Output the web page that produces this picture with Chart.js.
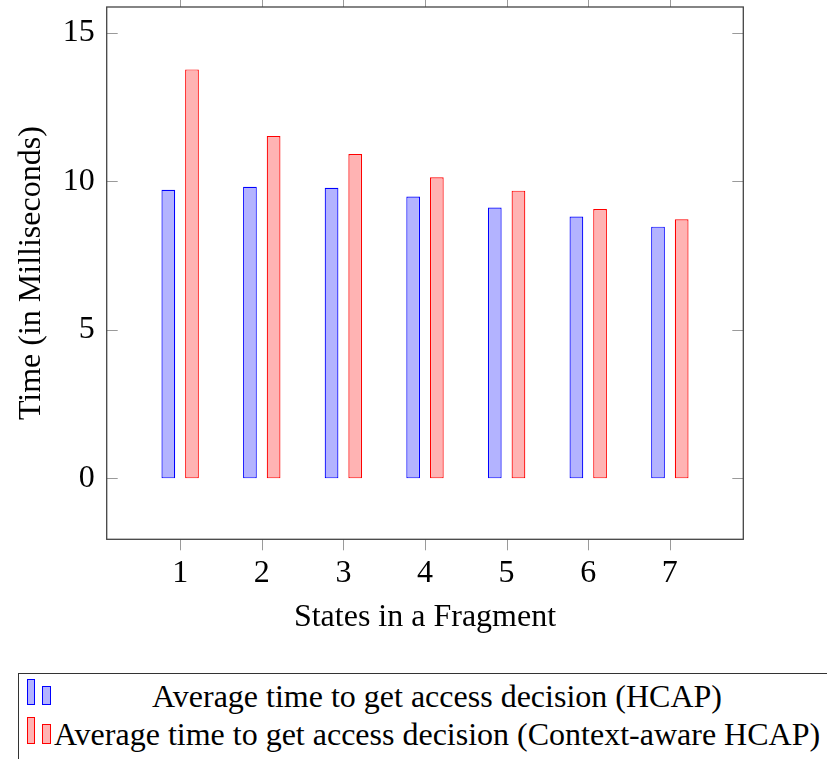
<!DOCTYPE html>
<html>
<head>
<meta charset="utf-8">
<script src="https://cdn.jsdelivr.net/npm/chart.js@4"></script>
<style>
  html, body { margin: 0; padding: 0; background: #fff; overflow: hidden; }
  body { width: 827px; height: 759px; position: relative; font-family: 'Liberation Serif', 'Times New Roman', serif; }
  #chart { position: absolute; left: 0; top: 0; }
  .legend-box {
    position: absolute; left: 18px; top: 673px; width: 900px; height: 200px;
    border: 1.3px solid #333; box-sizing: border-box;
  }
  .legend-line {
    position: absolute; left: 437px; transform: translateX(-50%);
    white-space: nowrap; font-size: 32px; line-height: 38.5px; color: #000;
  }
  .icon-bar { position: absolute; box-sizing: border-box; border: 1.2px solid; }
  .hcap { background: rgb(179,179,255); border-color: #0000ff; }
  .ctx { background: rgb(255,179,179); border-color: #ff0000; }
</style>
</head>
<body>
<canvas id="chart" width="827" height="650"></canvas>

<div class="legend-box"></div>
<div class="icon-bar hcap" style="left:27px;top:679px;width:8px;height:26px"></div>
<div class="icon-bar hcap" style="left:42px;top:686px;width:8.5px;height:19px"></div>
<div class="icon-bar ctx" style="left:27px;top:717px;width:8px;height:27px"></div>
<div class="icon-bar ctx" style="left:42px;top:724px;width:8.5px;height:20px"></div>
<div class="legend-line" id="leg1" style="top:676.6px"></div>
<div class="legend-line" id="leg2" style="top:715px"></div>

<script>
'use strict';

// ─── Data ─────────────────────────────────────────────────────────────────────

const states       = [1, 2, 3, 4, 5, 6, 7];
const hcapTimes    = [9.71, 9.81, 9.78, 9.48, 9.11, 8.81, 8.47];
const contextTimes = [13.76, 11.52, 10.91, 10.13, 9.68, 9.06, 8.72];
const yTicks       = [0, 5, 10, 15];

const seriesNames = [
  'Average time to get access decision (HCAP)',
  'Average time to get access decision (Context-aware HCAP)',
];

document.getElementById('leg1').textContent = seriesNames[0];
document.getElementById('leg2').textContent = seriesNames[1];

// ─── Frame + tick marks (y inward, x outward) ─────────────────────────────────

const frameTicks = {
  id: 'frameTicks',
  afterDraw(chart) {
    const { ctx, chartArea: a, scales: { x, y } } = chart;
    const len = 11;
    ctx.save();
    ctx.strokeStyle = '#9a9a9a';
    ctx.lineWidth = 1;
    ctx.beginPath();
    y.ticks.forEach((t) => {
      const py = Math.round(y.getPixelForValue(t.value)) + 0.5;
      ctx.moveTo(a.left, py);  ctx.lineTo(a.left + len, py);
      ctx.moveTo(a.right - len, py); ctx.lineTo(a.right, py);
    });
    x.ticks.forEach((t) => {
      const px = Math.round(x.getPixelForValue(t.value)) + 0.5;
      ctx.moveTo(px, a.bottom); ctx.lineTo(px, a.bottom + len);
      ctx.moveTo(px, a.top - len); ctx.lineTo(px, a.top);
    });
    ctx.stroke();
    ctx.strokeStyle = '#444';
    ctx.lineWidth = 1.3;
    ctx.strokeRect(a.left, a.top, a.right - a.left, a.bottom - a.top);
    ctx.restore();
  },
};

// ─── Chart ────────────────────────────────────────────────────────────────────

const font = { family: "'Liberation Serif', 'Times New Roman', serif", size: 32 };

new Chart(document.getElementById('chart'), {
  type: 'bar',
  data: {
    datasets: [
      {
        label: seriesNames[0],
        data: states.map((s, i) => ({ x: s, y: hcapTimes[i] })),
        backgroundColor: 'rgb(179,179,255)',
        borderColor: '#0000ff',
        borderWidth: 1.2,
        borderSkipped: false,
      },
      {
        label: seriesNames[1],
        data: states.map((s, i) => ({ x: s, y: contextTimes[i] })),
        backgroundColor: 'rgb(255,179,179)',
        borderColor: '#ff0000',
        borderWidth: 1.2,
        borderSkipped: false,
      },
    ],
  },
  options: {
    responsive: false,
    devicePixelRatio: 1,
    animation: false,
    categoryPercentage: 0.58,
    barPercentage: 0.58,
    layout: { padding: { left: 0, top: 7, right: 83.7, bottom: 10.7 } },
    plugins: { legend: { display: false }, tooltip: { enabled: false } },
    scales: {
      x: {
        type: 'linear',
        offset: false,
        min: 0.1,
        max: 7.9,
        afterBuildTicks: (s) => { s.ticks = states.map((v) => ({ value: v })); },
        afterFit: (s) => { s.height = 100; s.paddingLeft = 0; s.paddingRight = 0; },
        grid: { display: false, drawTicks: false, offset: false },
        border: { display: false },
        ticks: { font, color: '#000', padding: 15, maxRotation: 0 },
        title: {
          display: true, text: 'States in a Fragment', font, color: '#000',
          padding: { top: 0, bottom: 2.6 },
        },
      },
      y: {
        min: -2.05,
        max: 15.86,
        afterBuildTicks: (s) => { s.ticks = yTicks.map((v) => ({ value: v })); },
        afterFit: (s) => { s.width = 106.7; s.paddingTop = 0; s.paddingBottom = 0; },
        grid: { display: false, drawTicks: false },
        border: { display: false },
        ticks: { font, color: '#000', padding: 12 },
        title: {
          display: true, text: 'Time (in Milliseconds)', font, color: '#000',
          padding: { top: 12.7, bottom: 0 },
        },
      },
    },
  },
  plugins: [frameTicks],
});
</script>
</body>
</html>
